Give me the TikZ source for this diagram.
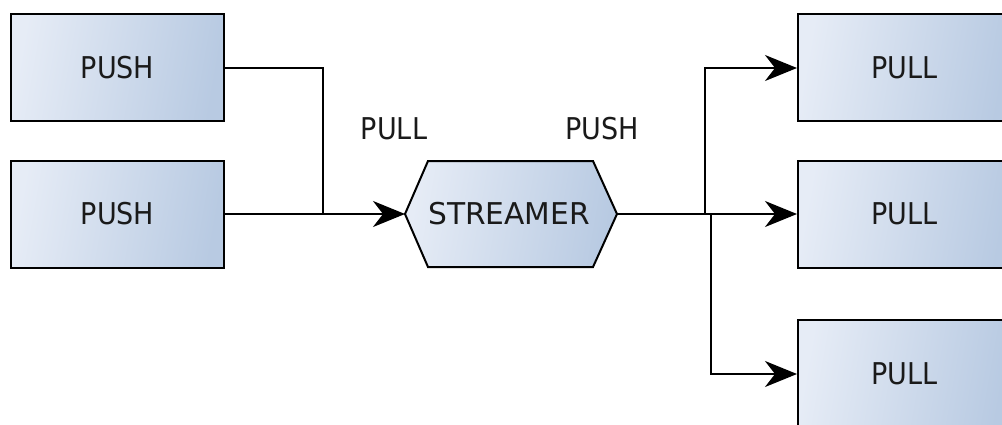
\documentclass[tikz,border=0pt]{standalone}
\usepackage{fontspec}
\setmainfont{DejaVu Sans Condensed}
\usetikzlibrary{arrows.meta}
\definecolor{boxlight}{HTML}{E6ECF6}
\definecolor{boxdark}{HTML}{B8CAE2}
\definecolor{txt}{HTML}{1A1A1A}
\tikzset{
  block/.style={draw=black, line width=2pt, left color=boxlight, right color=boxdark, shading angle=80,
    minimum width=213pt, minimum height=107pt, inner sep=0pt, font=\fontsize{30}{31}\selectfont, text=txt},
  lbl/.style={font=\fontsize{30}{31}\selectfont, text=txt, inner sep=0pt},
  wire/.style={line width=2pt, draw=black},
  arr/.style={wire, -{Stealth[length=32pt,width=26pt,inset=10pt]}}
}
\begin{document}
\begin{tikzpicture}[x=1pt,y=-1pt]
\useasboundingbox (0,0) rectangle (1002,424);
\fill[white] (0,0) rectangle (1002,424);
% left boxes
\node[block] (push1) at (117.5,67.5) {PUSH};
\node[block] (push2) at (117.5,214) {PUSH};
% right boxes
\node[block] (pull1) at (904.5,67.5) {PULL};
\node[block] (pull2) at (904.5,214) {PULL};
\node[block] (pull3) at (904.5,373.5) {PULL};
% streamer hexagon
\coordinate (sW) at (405,214);
\coordinate (sE) at (617,214);
\draw[line width=2pt, line join=miter, left color=boxlight, right color=boxdark, shading angle=80]
  (sW) -- (428,161) -- (593,161) -- (sE) -- (593,267) -- (428,267) -- cycle;
\node[lbl] (streamer) at (509,214) {\scalebox{1.1}[1]{STREAMER}};
% labels
\node[lbl] (lpull) at (394,129) {PULL};
\node[lbl] (lpush) at (602,129) {PUSH};
% junctions
\coordinate (j1) at (323,214);
\coordinate (j2) at (705,214);
\coordinate (j3) at (711,214);
% connectors
\draw[wire] (push1.east |- 0,68) -| (j1);
\draw[arr] (push2.east) -- (sW);
\draw[wire] (sE) -- (j3);
\draw[arr] (j2) |- (pull1.west |- 0,68);
\draw[arr] (j3) -- (pull2.west);
\draw[arr] (j3) |- (pull3.west |- 0,374);
\end{tikzpicture}
\end{document}
